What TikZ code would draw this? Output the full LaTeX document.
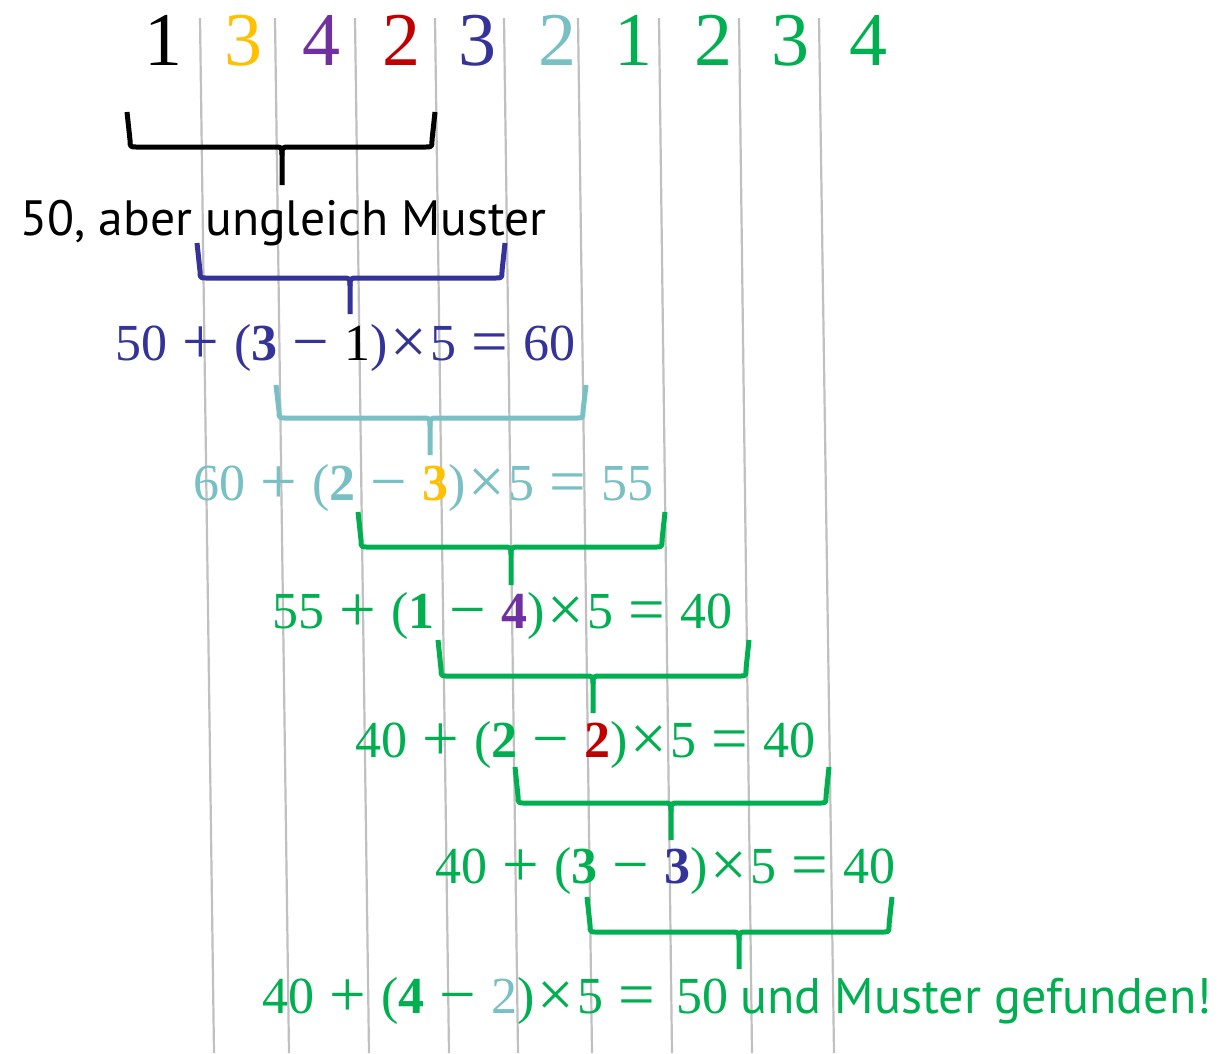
\documentclass[tikz,border=0pt]{standalone}
\usepackage{graphicx}
\usepackage{fontspec}
\setmainfont{Liberation Serif}
\newfontfamily\sansf{PT Sans}
\definecolor{cblue}{RGB}{51,51,153}
\definecolor{ccyan}{RGB}{120,192,196}
\definecolor{cyellow}{RGB}{255,192,0}
\definecolor{cpurple}{RGB}{112,48,160}
\definecolor{cred}{RGB}{192,0,0}
\definecolor{cgreen}{RGB}{0,176,80}
\definecolor{lgrey}{RGB}{192,192,192}
\newcommand\opglyph[1]{\raisebox{-0.0625em}{\scalebox{1.25}{#1}}}
\newcommand\bigop[1]{\hspace{0.29em}\opglyph{#1}\hspace{0.29em}}
\newcommand\smallop[1]{\hspace{0.06em}\opglyph{#1}\hspace{0.06em}}
\newcommand\mybrace[7]{%
  \draw[bracestyle,#1] (#2-3,#5) -- (#2,#6-7) .. controls (#2,#6) .. (#2+7,#6) -- (#4-8,#6) .. controls (#4,#6) .. (#4,#6+8) -- (#4,#7);
  \draw[bracestyle,#1] (#3+3,#5) -- (#3,#6-7) .. controls (#3,#6) .. (#3-7,#6) -- (#4+8,#6) .. controls (#4,#6) .. (#4,#6+8);
}
\begin{document}
\begin{tikzpicture}[x=1pt,y=-1pt,
  gline/.style={draw=lgrey, line width=2.2pt},
  bracestyle/.style={line width=5pt, line join=round},
  digit/.style={anchor=base, inner sep=0pt, font=\fontsize{76}{80}\selectfont},
  eqn/.style={anchor=base west, inner sep=0pt, font=\fontsize{52}{60}\selectfont},
  sanslabel/.style={anchor=base west, inner sep=0pt, font=\sansf\fontsize{50}{56}\selectfont}]
\useasboundingbox[fill=white] (0,0) rectangle (1223,1053);
% grey separators
\foreach \t/\b [count=\i] in {200/214,275/289,355/369,435/449,504/518,578/592,659/672,739/752,819/834}{
  \coordinate (gt\i) at (\t,18);
  \coordinate (gb\i) at (\b,1053);
  \draw[gline] (gt\i) -- (gb\i);
}
% top digits
\node[digit] (d1) at (163,65) {1};
\node[digit,text=cyellow] (d2) at (243,65) {3};
\node[digit,text=cpurple] (d3) at (321,65) {4};
\node[digit,text=cred] (d4) at (401,65) {2};
\node[digit,text=cblue] (d5) at (477,65) {3};
\node[digit,text=ccyan] (d6) at (557,65) {2};
\node[digit,text=cgreen] (d7) at (633,65) {1};
\node[digit,text=cgreen] (d8) at (713,65) {2};
\node[digit,text=cgreen] (d9) at (790,65) {3};
\node[digit,text=cgreen] (d10) at (868,65) {4};
% braces
\mybrace{black}{130}{432}{282}{112}{147}{185}
\mybrace{cblue}{200}{502}{350}{243}{278}{314}
\mybrace{ccyan}{279}{583}{430}{385}{418}{455}
\mybrace{cgreen}{361}{662}{511}{512}{547}{585}
\mybrace{cgreen}{441}{746}{593}{640}{676}{713}
\mybrace{cgreen}{518}{826}{671}{767}{803}{840}
\mybrace{cgreen}{590}{889}{739}{897}{932}{969}
% texts
\node[sanslabel,font=\sansf\fontsize{49.6}{56}\selectfont] (t0) at (20,235) {50, aber ungleich Muster};
\node[eqn,text=cblue] (e1) at (115,360) {50\bigop{+}(\textbf{3}\bigop{−}\textcolor{black}{1})\smallop{×}5\bigop{=}60};
\node[eqn,text=ccyan] (e2) at (193,500) {60\bigop{+}(\textbf{2}\bigop{−}\textcolor{cyellow}{\textbf{3}})\smallop{×}5\bigop{=}55};
\node[eqn,text=cgreen] (e3) at (272,628) {55\bigop{+}(\textbf{1}\bigop{−}\textcolor{cpurple}{\textbf{4}})\smallop{×}5\bigop{=}40};
\node[eqn,text=cgreen] (e4) at (355,757) {40\bigop{+}(\textbf{2}\bigop{−}\textcolor{cred}{\textbf{2}})\smallop{×}5\bigop{=}40};
\node[eqn,text=cgreen] (e5) at (435,883) {40\bigop{+}(\textbf{3}\bigop{−}\textcolor{cblue}{\textbf{3}})\smallop{×}5\bigop{=}40};
\node[eqn,text=cgreen] (e6) at (262,1013) {40\bigop{+}(\textbf{4}\bigop{−}\textcolor{ccyan}{2})\smallop{×}5\bigop{=}\hspace{0.12em}50};
\node[sanslabel,text=cgreen] (t6) at (740,1013) {und Muster gefunden!};
\end{tikzpicture}
\end{document}
